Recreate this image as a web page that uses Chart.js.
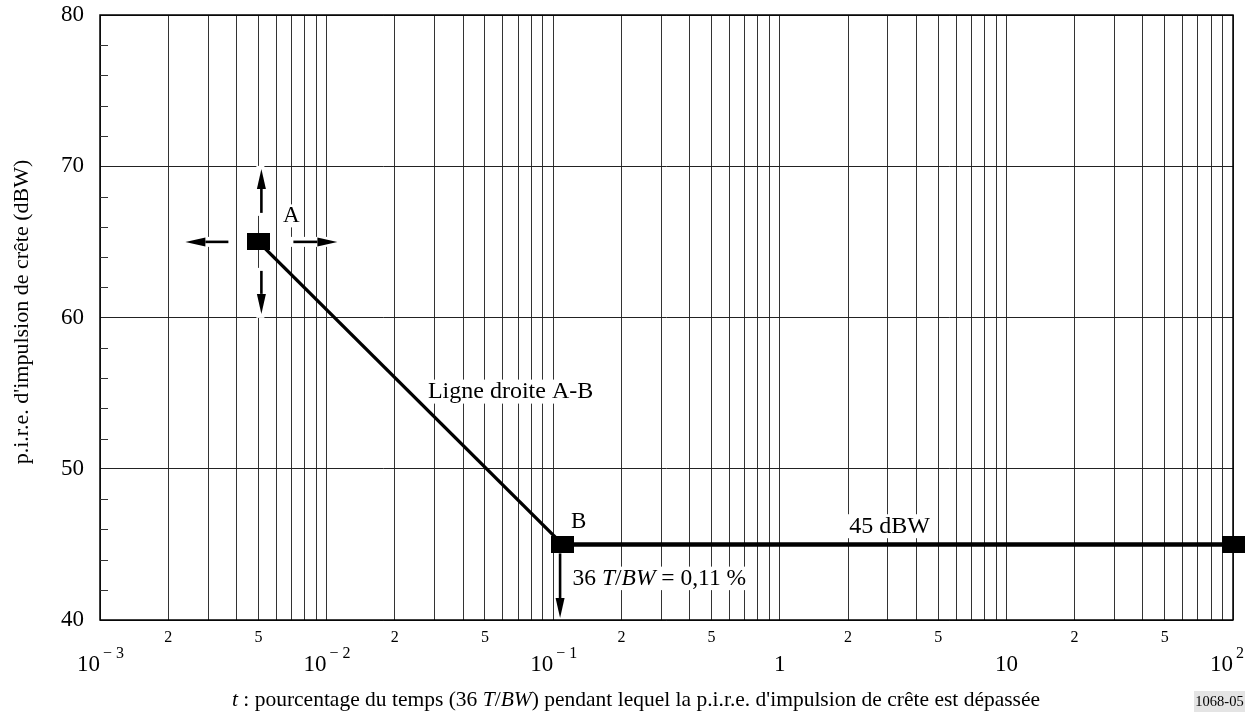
<!DOCTYPE html>
<html>
<head>
<meta charset="utf-8">
<script src="https://cdn.jsdelivr.net/npm/chart.js@4"></script>
<style>
  body { margin: 0; background: #fff; }
  #wrap { width: 1259px; height: 715px; position: relative; }
</style>
</head>
<body>
<div id="wrap"><canvas id="chart"></canvas></div>
<script>
// Données de la courbe (p.i.r.e. d'impulsion de crête)
const pointsX = [0.005, 0.11, 100];
const pointsY = [65, 45, 45];

// Axes
const decades = [0.001, 0.01, 0.1, 1, 10, 100];
const decadeBase = ['10', '10', '10', '1', '10', '10'];
const decadeExp = ['\u2212 3', '\u2212 2', '\u2212 1', '', '', '2'];
const minorLabels = ['2', '5'];
const yMajor = [40, 50, 60, 70, 80];

const serif = '"Liberation Serif", "DejaVu Serif", serif';

// marqueur rectangulaire noir
const carre = document.createElement('canvas');
carre.width = 23;
carre.height = 17;
const cctx = carre.getContext('2d');
cctx.fillStyle = '#000';
cctx.fillRect(0, 0, 23, 17);

function fleche(ctx, x1, y1, x2, y2) {
    const ang = Math.atan2(y2 - y1, x2 - x1);
    const lg = 20, hw = 4.5;
    const bx = x2 - lg * Math.cos(ang), by = y2 - lg * Math.sin(ang);
    ctx.save();
    ctx.strokeStyle = '#000';
    ctx.fillStyle = '#000';
    ctx.lineWidth = 2.6;
    ctx.beginPath();
    ctx.moveTo(x1, y1);
    ctx.lineTo(bx, by);
    ctx.stroke();
    ctx.beginPath();
    ctx.moveTo(x2, y2);
    ctx.lineTo(bx + hw * Math.sin(ang), by - hw * Math.cos(ang));
    ctx.lineTo(bx - hw * Math.sin(ang), by + hw * Math.cos(ang));
    ctx.closePath();
    ctx.fill();
    ctx.restore();
}

// texte composé (morceaux normaux / italiques)
function texteMixte(ctx, parts, x, y, size, align, fond) {
    ctx.save();
    ctx.textBaseline = 'middle';
    ctx.textAlign = 'left';
    let total = 0;
    const w = parts.map(p => {
        ctx.font = (p[1] ? 'italic ' : '') + size + 'px ' + serif;
        const m = ctx.measureText(p[0]).width;
        total += m;
        return m;
    });
    let x0 = align === 'center' ? x - total / 2 : x;
    if (fond) {
        ctx.fillStyle = '#fff';
        ctx.fillRect(x0 - 4, y - size * 0.5, total + 8, size * 1.0);
    }
    ctx.fillStyle = '#000';
    parts.forEach((p, i) => {
        ctx.font = (p[1] ? 'italic ' : '') + size + 'px ' + serif;
        ctx.fillText(p[0], x0, y);
        x0 += w[i];
    });
    ctx.restore();
}

const habillage = {
    id: 'habillage',
    beforeDatasetsDraw(chart) {
        const ctx = chart.ctx;
        const xs = chart.scales.x, ys = chart.scales.y;
        const area = chart.chartArea;

        // cadre
        ctx.save();
        ctx.strokeStyle = '#000';
        ctx.lineWidth = 1.5;
        ctx.strokeRect(area.left, area.top, area.right - area.left, area.bottom - area.top);

        // petites graduations (tous les 2 dBW) sur l'axe gauche
        ctx.lineWidth = 1;
        ctx.strokeStyle = '#333';
        for (let v = yMajor[0]; v <= yMajor[yMajor.length - 1]; v += 2) {
            if (v % 10 === 0) continue;
            const py = Math.round(ys.getPixelForValue(v)) + 0.5;
            ctx.beginPath();
            ctx.moveTo(area.left, py);
            ctx.lineTo(area.left + 8, py);
            ctx.stroke();
        }
        ctx.restore();

        // étiquettes de l'axe y
        ctx.save();
        ctx.fillStyle = '#000';
        ctx.font = '23px ' + serif;
        ctx.textAlign = 'right';
        ctx.textBaseline = 'middle';
        yMajor.forEach(v => ctx.fillText(String(v), area.left - 16, ys.getPixelForValue(v)));

        // étiquettes de l'axe x
        decades.forEach((d, i) => {
            const px = xs.getPixelForValue(d);
            ctx.font = '23px ' + serif;
            if (decadeExp[i]) {
                ctx.textAlign = 'right';
                ctx.fillText(decadeBase[i], px, area.bottom + 45);
                ctx.textAlign = 'left';
                ctx.font = '16px ' + serif;
                ctx.fillText(decadeExp[i], px + 3, area.bottom + 34);
            } else {
                ctx.textAlign = 'center';
                ctx.fillText(decadeBase[i], px, area.bottom + 45);
            }
            if (i < decades.length - 1) {
                ctx.textAlign = 'center';
                ctx.font = '16px ' + serif;
                minorLabels.forEach(m => {
                    ctx.fillText(m, xs.getPixelForValue(d * Number(m)), area.bottom + 18);
                });
            }
        });

        // titre de l'axe y
        ctx.save();
        ctx.translate(22, 312);
        ctx.rotate(-Math.PI / 2);
        ctx.textAlign = 'center';
        ctx.font = '22px ' + serif;
        ctx.fillText("p.i.r.e. d'impulsion de cr\u00eate (dBW)", 0, 0);
        ctx.restore();
        ctx.restore();

        // titre de l'axe x
        texteMixte(ctx, [
            ['t', true], [' : pourcentage du temps (36 ', false], ['T', true], ['/', false],
            ['BW', true], [") pendant lequel la p.i.r.e. d'impulsion de cr\u00eate est d\u00e9pass\u00e9e", false]
        ], 636, 700, 21.5, 'center', false);

        // référence de la figure
        ctx.save();
        ctx.fillStyle = '#e4e4e4';
        ctx.fillRect(1194, 691, 51, 21);
        ctx.fillStyle = '#000';
        ctx.font = '14.5px ' + serif;
        ctx.textAlign = 'center';
        ctx.textBaseline = 'middle';
        ctx.fillText('1068-05', 1219.5, 702);
        ctx.restore();

        // annotations autour des points A et B
        const ax = xs.getPixelForValue(pointsX[0]), ay = ys.getPixelForValue(pointsY[0]);
        const bx = xs.getPixelForValue(pointsX[1]), by = ys.getPixelForValue(pointsY[1]);

        ctx.save();
        ctx.fillStyle = '#fff';
        ctx.fillRect(ax - 2, ay - 76, 8, 50);
        ctx.fillRect(ax - 2, ay + 26, 8, 50);
        ctx.fillRect(ax - 77, ay - 5, 48, 10);
        ctx.fillRect(ax + 31, ay - 5, 50, 10);
        ctx.restore();
        fleche(ctx, ax + 3, ay - 29, ax + 3, ay - 73);
        fleche(ctx, ax + 3, ay + 29, ax + 3, ay + 72);
        fleche(ctx, ax - 30, ay, ax - 73, ay);
        fleche(ctx, ax + 35, ay, ax + 79, ay);
        texteMixte(ctx, [['A', false]], ax + 33, ay - 26, 23, 'center', true);

        texteMixte(ctx, [['B', false]], bx + 16, by - 22, 23, 'center', true);
        ctx.save();
        ctx.fillStyle = '#fff';
        ctx.fillRect(bx - 7, by + 8, 9, area.bottom - by - 9);
        ctx.restore();
        fleche(ctx, bx - 2.5, by + 9, bx - 2.5, area.bottom - 2);
        texteMixte(ctx, [['36 ', false], ['T', true], ['/', false], ['BW', true], [' = 0,11 %', false]],
            bx + 10, by + 34, 23.5, 'left', true);

        texteMixte(ctx, [['Ligne droite A-B', false]], xs.getPixelForValue(0.028), ys.getPixelForValue(55.1), 24, 'left', true);
        texteMixte(ctx, [['45 dBW', false]], xs.getPixelForValue(3.05), ys.getPixelForValue(46.2), 24, 'center', true);
    }
};

const ctx = document.getElementById('chart').getContext('2d');
new Chart(ctx, {
    type: 'line',
    data: {
        datasets: [{
            data: pointsX.map((x, i) => ({ x: x, y: pointsY[i] })),
            borderColor: '#000',
            backgroundColor: '#000',
            borderWidth: 4,
            segment: {
                borderWidth: c => c.p0DataIndex === 0 ? 3.4 : 4.5
            },
            tension: 0,
            pointStyle: carre,
            pointRadius: 10,
            clip: false
        }]
    },
    options: {
        responsive: true,
        maintainAspectRatio: false,
        animation: false,
        layout: { padding: { left: 100, top: 15, right: 26, bottom: 95 } },
        plugins: {
            legend: { display: false },
            tooltip: { enabled: false }
        },
        scales: {
            x: {
                type: 'logarithmic',
                min: decades[0],
                max: decades[decades.length - 1],
                afterBuildTicks: scale => {
                    const t = [];
                    for (let i = 0; i < decades.length - 1; i++) {
                        for (let k = 1; k < 10; k++) t.push({ value: decades[i] * k });
                    }
                    t.push({ value: decades[decades.length - 1] });
                    scale.ticks = t;
                },
                ticks: { display: false, autoSkip: false },
                grid: { color: '#333', lineWidth: 1, drawTicks: false },
                border: { display: false }
            },
            y: {
                type: 'linear',
                min: yMajor[0],
                max: yMajor[yMajor.length - 1],
                ticks: { display: false, stepSize: 10 },
                grid: { color: '#222', lineWidth: 1, drawTicks: false },
                border: { display: false }
            }
        }
    },
    plugins: [habillage]
});
</script>
</body>
</html>
